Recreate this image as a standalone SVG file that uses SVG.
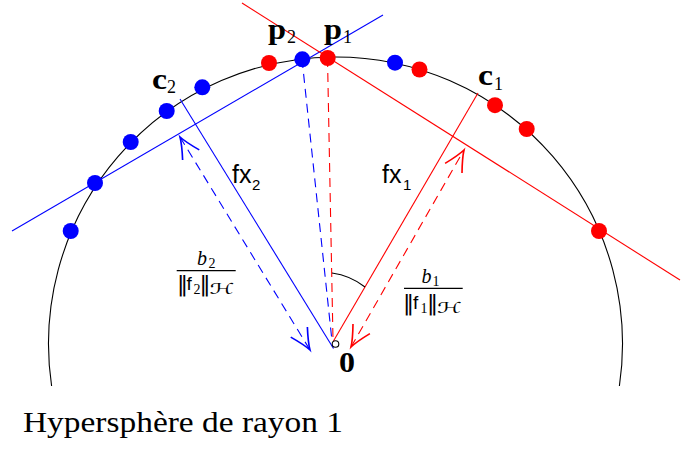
<svg xmlns="http://www.w3.org/2000/svg" width="683" height="449" viewBox="0 0 683 449">
<style>
.blue{stroke:#0000ff;fill:none;stroke-width:1.1}
.red{stroke:#ff0000;fill:none;stroke-width:1.1}
.dash{stroke-dasharray:9 6}
.bdot{fill:#0000ff}
.rdot{fill:#ff0000}
.bold{font-family:"Liberation Serif",serif;font-weight:bold;font-size:29px;fill:#000}
.sub{font-family:"Liberation Serif",serif;font-size:18px;fill:#000}
.sans{font-family:"Liberation Sans",sans-serif;font-size:25px;fill:#000}
.ssub{font-family:"Liberation Sans",sans-serif;font-size:15px;fill:#000}
.it{font-family:"Liberation Serif",serif;font-style:italic;font-size:20px;fill:#000}
.num{font-family:"Liberation Serif",serif;font-size:14px;fill:#000}
.nrm{font-family:"DejaVu Sans",sans-serif;font-size:22px;fill:#000}
.fs{font-family:"Liberation Sans",sans-serif;font-size:19px;fill:#000}
.cal{font-family:"DejaVu Sans",serif;font-style:italic;font-size:15px;fill:#000}
</style>
<defs>
<marker id="ab" markerUnits="userSpaceOnUse" markerWidth="30" markerHeight="30" viewBox="-16 -10 20 20" refX="0" refY="0" orient="auto-start-reverse" overflow="visible">
<path d="M-14,-6.5 Q-5,-1.5 0,0 Q-5,1.5 -14,6.5" fill="none" stroke="#0000ff" stroke-width="1.1"/>
</marker>
<marker id="ar" markerUnits="userSpaceOnUse" markerWidth="30" markerHeight="30" viewBox="-16 -10 20 20" refX="0" refY="0" orient="auto-start-reverse" overflow="visible">
<path d="M-14,-6.5 Q-5,-1.5 0,0 Q-5,1.5 -14,6.5" fill="none" stroke="#ff0000" stroke-width="1.1"/>
</marker>
</defs>
<rect width="683" height="449" fill="#ffffff"/>

<g id="sphere">
<path d="M51.6,386 A287,287 0 1 1 619.4,386" fill="none" stroke="#000" stroke-width="1.1"/>
<text x="23" y="432" font-family="Liberation Serif, serif" font-size="30" textLength="320" lengthAdjust="spacingAndGlyphs">Hypersphère de rayon 1</text>
</g>

<g id="connectors">
<line class="blue" x1="12" y1="231" x2="383" y2="15"/>
<line class="red" x1="242" y1="3" x2="680" y2="280"/>
<line class="blue" x1="180" y1="99" x2="333.5" y2="348.5"/>
<line class="red" x1="478" y1="93" x2="333.5" y2="341"/>
<line class="blue dash" x1="302" y1="59" x2="332" y2="341"/>
<line class="red dash" x1="327.5" y1="58" x2="333" y2="340"/>
<line class="blue dash" x1="180" y1="137" x2="310" y2="350" marker-start="url(#ab)" marker-end="url(#ab)"/>
<line class="red dash" x1="351" y1="347" x2="464" y2="150" marker-start="url(#ar)" marker-end="url(#ar)"/>
<path d="M332,273 A68,68 0 0 1 365,287" fill="none" stroke="#000" stroke-width="1.1"/>
</g>

<g id="origin">
<circle cx="335.5" cy="344" r="3.3" fill="#fff" stroke="#000" stroke-width="1.1"/>
<text class="bold" x="339" y="372" font-size="30" textLength="16" lengthAdjust="spacingAndGlyphs">0</text>
</g>

<g id="b1"><circle class="bdot" cx="70.7" cy="231" r="8"/></g>
<g id="b2"><circle class="bdot" cx="95" cy="183" r="8"/></g>
<g id="b3"><circle class="bdot" cx="130.7" cy="142" r="8"/></g>
<g id="b4"><circle class="bdot" cx="166.7" cy="111" r="8"/></g>
<g id="b5"><circle class="bdot" cx="202.3" cy="87.3" r="8"/></g>
<g id="p2"><circle class="bdot" cx="302.3" cy="59.3" r="8"/>
<text class="bold" x="268" y="39" textLength="18" lengthAdjust="spacingAndGlyphs">p</text><text class="sub" x="287" y="43">2</text></g>
<g id="b7"><circle class="bdot" cx="395" cy="62.7" r="8"/></g>

<g id="r1"><circle class="rdot" cx="269" cy="63" r="8"/></g>
<g id="p1"><circle class="rdot" cx="327.7" cy="58" r="8"/>
<text class="bold" x="324" y="39" textLength="18" lengthAdjust="spacingAndGlyphs">p</text><text class="sub" x="343" y="43">1</text></g>
<g id="r3"><circle class="rdot" cx="419.5" cy="69.5" r="8"/></g>
<g id="r4"><circle class="rdot" cx="495" cy="105.2" r="8"/></g>
<g id="r5"><circle class="rdot" cx="526.7" cy="129" r="8"/></g>
<g id="r6"><circle class="rdot" cx="599" cy="231" r="8"/></g>

<g id="c2"><text class="bold" x="152" y="89" textLength="15" lengthAdjust="spacingAndGlyphs">c</text><text class="sub" x="167" y="93">2</text></g>
<g id="c1"><text class="bold" x="478" y="85" textLength="15" lengthAdjust="spacingAndGlyphs">c</text><text class="sub" x="494" y="90">1</text></g>

<g id="fx2"><text class="sans" x="232" y="183">fx</text><text class="ssub" x="252" y="190">2</text></g>
<g id="fx1"><text class="sans" x="382" y="183">fx</text><text class="ssub" x="403" y="190">1</text></g>

<g id="frac2">
<text class="it" x="197" y="265">b</text><text class="num" x="208.5" y="268">2</text>
<line x1="176.7" y1="270.7" x2="235.7" y2="270.7" stroke="#000" stroke-width="1.3"/>
<text class="nrm" x="177" y="291">‖</text>
<text class="fs" x="186.5" y="290">f</text>
<text class="num" x="193.5" y="294">2</text>
<text class="nrm" x="199.5" y="291">‖</text>
<text class="cal" x="209.5" y="294" textLength="25" lengthAdjust="spacingAndGlyphs">ℋ</text>
</g>

<g id="frac1">
<text class="it" x="421.5" y="283">b</text><text class="num" x="432.5" y="286">1</text>
<line x1="404" y1="288.3" x2="462.7" y2="288.3" stroke="#000" stroke-width="1.3"/>
<text class="nrm" x="403" y="310">‖</text>
<text class="fs" x="413" y="309">f</text>
<text class="num" x="420.5" y="313">1</text>
<text class="nrm" x="427" y="310">‖</text>
<text class="cal" x="437" y="313" textLength="25" lengthAdjust="spacingAndGlyphs">ℋ</text>
</g>
</svg>
